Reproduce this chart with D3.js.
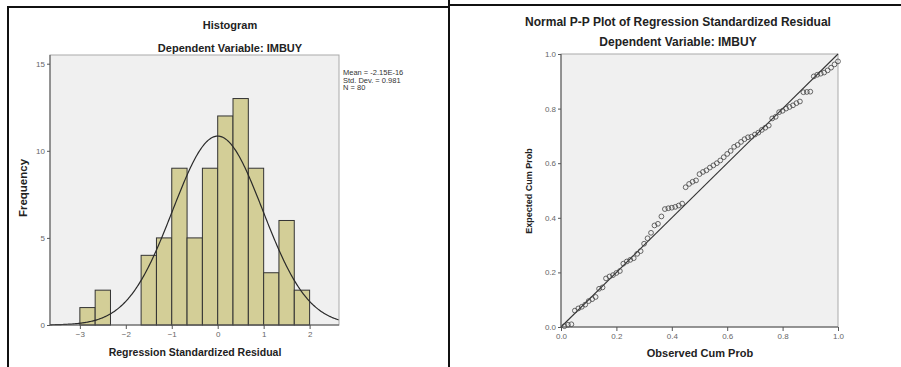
<!DOCTYPE html>
<html>
<head>
<meta charset="utf-8">
<script src="https://cdn.jsdelivr.net/npm/d3@7"></script>
<style>
  body { margin: 0; background: #fff; }
  svg { display: block; font-family: 'Liberation Sans', Arial, sans-serif; }
  .tick text { fill: #666; font-size: 8px; }
</style>
</head>
<body>
<div id="chart"></div>
<script>
// histogram: lower edge of each bin (width 1/3) and its count
const binStarts = [-3.0, -2.667, -2.333, -2.0, -1.667, -1.333, -1.0, -0.667, -0.333, 0.0, 0.333, 0.667, 1.0, 1.333, 1.667];
const binCounts = [1, 2, 0, 0, 4, 5, 9, 5, 9, 12, 13, 9, 3, 6, 2];
const binWidth = 1 / 3;
const histXTicks = [-3, -2, -1, 0, 1, 2];
const histYTicks = [0, 5, 10, 15];
const statMean = -2.15e-16;
const statSd = 0.981;
const statN = 80;
const legendLines = ['Mean = -2.15E-16', 'Std. Dev. = 0.981', 'N = 80'];

// P-P plot: observed vs expected cumulative probability
const observedCum = [
  0.0125, 0.025, 0.0375, 0.05, 0.0625, 0.075, 0.0875, 0.1, 0.1125, 0.125,
  0.1375, 0.15, 0.1625, 0.175, 0.1875, 0.2, 0.2125, 0.225, 0.2375, 0.25,
  0.2625, 0.275, 0.2875, 0.3, 0.3125, 0.325, 0.3375, 0.35, 0.3625, 0.375,
  0.3875, 0.4, 0.4125, 0.425, 0.4375, 0.45, 0.4625, 0.475, 0.4875, 0.5,
  0.5125, 0.525, 0.5375, 0.55, 0.5625, 0.575, 0.5875, 0.6, 0.6125, 0.625,
  0.6375, 0.65, 0.6625, 0.675, 0.6875, 0.7, 0.7125, 0.725, 0.7375, 0.75,
  0.7625, 0.775, 0.7875, 0.8, 0.8125, 0.825, 0.8375, 0.85, 0.8625, 0.875,
  0.8875, 0.9, 0.9125, 0.925, 0.9375, 0.95, 0.9625, 0.975, 0.9875, 1.0
];
const expectedCum = [
  0.003, 0.008, 0.01, 0.06, 0.068, 0.074, 0.082, 0.095, 0.102, 0.11,
  0.14, 0.145, 0.178, 0.185, 0.19, 0.198, 0.205, 0.232, 0.24, 0.246,
  0.252, 0.268, 0.278, 0.305, 0.325, 0.345, 0.372, 0.378, 0.405, 0.432,
  0.435, 0.437, 0.44, 0.445, 0.452, 0.512, 0.524, 0.532, 0.537, 0.56,
  0.568, 0.574, 0.584, 0.592, 0.6, 0.61, 0.622, 0.634, 0.645, 0.66,
  0.667, 0.678, 0.688, 0.695, 0.697, 0.705, 0.712, 0.722, 0.73, 0.738,
  0.764, 0.77, 0.787, 0.792, 0.8, 0.806, 0.812, 0.82, 0.826, 0.86,
  0.861, 0.862, 0.918, 0.924, 0.928, 0.932, 0.94, 0.95, 0.962, 0.973
];
const ppTicks = [0, 0.2, 0.4, 0.6, 0.8, 1.0];

const width = 901;
const height = 367;
const svg = d3.select('#chart').append('svg').attr('width', width).attr('height', height);

// page frame lines
svg.append('path')
  .attr('d', 'M8,367 V7 H449 M449,0 V367 M449,5 H901')
  .attr('fill', 'none')
  .attr('stroke', '#111')
  .attr('stroke-width', 2);

function drawTitle(x, y, text, size) {
  svg.append('text')
    .attr('x', x).attr('y', y)
    .attr('text-anchor', 'middle')
    .attr('font-weight', 'bold')
    .attr('font-size', size)
    .attr('fill', '#222')
    .text(text);
}

function styleAxis(g) {
  g.select('.domain').remove();
  g.selectAll('.tick line').attr('stroke', '#555');
}

// ---------- histogram ----------
const hx = d3.scaleLinear().domain([-3.65, 2.64]).range([50, 339]);
const hy = d3.scaleLinear().domain([0, 15.5]).range([325, 55]);

svg.append('rect')
  .attr('x', 50).attr('y', 55).attr('width', 289).attr('height', 270)
  .attr('fill', '#f0f0f0').attr('stroke', '#aaa');

drawTitle(230, 29, 'Histogram', 11);
drawTitle(230, 52, 'Dependent Variable: IMBUY', 11);

svg.append('g')
  .selectAll('rect')
  .data(binStarts.map((s, i) => ({ start: s, count: binCounts[i] })).filter(d => d.count > 0))
  .enter()
  .append('rect')
  .attr('x', d => hx(d.start))
  .attr('y', d => hy(d.count))
  .attr('width', d => hx(d.start + binWidth) - hx(d.start))
  .attr('height', d => hy(0) - hy(d.count))
  .attr('fill', '#d3ce97')
  .attr('stroke', '#333')
  .attr('stroke-width', 1);

const curvePts = d3.range(-3.65, 2.65, 0.02).map(v => {
  const z = (v - statMean) / statSd;
  return [v, statN * binWidth * Math.exp(-0.5 * z * z) / (statSd * Math.sqrt(2 * Math.PI))];
});
svg.append('path')
  .attr('d', d3.line().x(d => hx(d[0])).y(d => hy(d[1]))(curvePts))
  .attr('fill', 'none')
  .attr('stroke', '#2a2a2a')
  .attr('stroke-width', 1.2);

svg.append('line').attr('x1', 50).attr('x2', 50).attr('y1', 55).attr('y2', 325).attr('stroke', '#555');
svg.append('line').attr('x1', 50).attr('x2', 339).attr('y1', 325).attr('y2', 325).attr('stroke', '#555');

svg.append('g')
  .attr('transform', 'translate(0,325)')
  .call(d3.axisBottom(hx).tickValues(histXTicks).tickSize(4).tickPadding(2).tickFormat(d3.format('d')))
  .call(styleAxis);
svg.append('g')
  .attr('transform', 'translate(50,0)')
  .call(d3.axisLeft(hy).tickValues(histYTicks).tickSize(3).tickPadding(2))
  .call(styleAxis);

svg.append('g')
  .selectAll('text')
  .data(legendLines)
  .enter()
  .append('text')
  .attr('x', 343)
  .attr('y', (d, i) => 75 + i * 7.5)
  .attr('font-size', 7.5)
  .attr('fill', '#333')
  .text(d => d);

drawTitle(195, 356, 'Regression Standardized Residual', 10.5);
svg.append('text')
  .attr('transform', 'translate(27,188) rotate(-90)')
  .attr('text-anchor', 'middle')
  .attr('font-weight', 'bold')
  .attr('font-size', 11.5)
  .attr('fill', '#222')
  .text('Frequency');

// ---------- P-P plot ----------
const px = d3.scaleLinear().domain([0, 1]).range([561, 838]);
const py = d3.scaleLinear().domain([0, 1]).range([327, 54]);

svg.append('rect')
  .attr('x', 561).attr('y', 54).attr('width', 277).attr('height', 273)
  .attr('fill', '#f0f0f0').attr('stroke', '#aaa');

drawTitle(678, 26, 'Normal P-P Plot of Regression Standardized Residual', 12);
drawTitle(678, 46, 'Dependent Variable: IMBUY', 12);

svg.append('line')
  .attr('x1', px(0)).attr('y1', py(0)).attr('x2', px(1)).attr('y2', py(1))
  .attr('stroke', '#333').attr('stroke-width', 1.1);

svg.append('g')
  .selectAll('circle')
  .data(observedCum.map((o, i) => ({ o, e: expectedCum[i] })))
  .enter()
  .append('circle')
  .attr('cx', d => px(d.o))
  .attr('cy', d => py(d.e))
  .attr('r', 2.4)
  .attr('fill', 'none')
  .attr('stroke', '#444')
  .attr('stroke-width', 0.8);

svg.append('line').attr('x1', 561).attr('x2', 561).attr('y1', 54).attr('y2', 327).attr('stroke', '#555');
svg.append('line').attr('x1', 561).attr('x2', 838).attr('y1', 327).attr('y2', 327).attr('stroke', '#555');

svg.append('g')
  .attr('transform', 'translate(0,327)')
  .call(d3.axisBottom(px).tickValues(ppTicks).tickSize(4).tickPadding(2).tickFormat(d3.format('.1f')))
  .call(styleAxis);
svg.append('g')
  .attr('transform', 'translate(561,0)')
  .call(d3.axisLeft(py).tickValues(ppTicks).tickSize(3).tickPadding(2).tickFormat(d3.format('.1f')))
  .call(styleAxis);

drawTitle(700, 357, 'Observed Cum Prob', 11);
svg.append('text')
  .attr('transform', 'translate(532,191) rotate(-90)')
  .attr('text-anchor', 'middle')
  .attr('font-weight', 'bold')
  .attr('font-size', 9)
  .attr('fill', '#222')
  .text('Expected Cum Prob');
</script>
</body>
</html>
